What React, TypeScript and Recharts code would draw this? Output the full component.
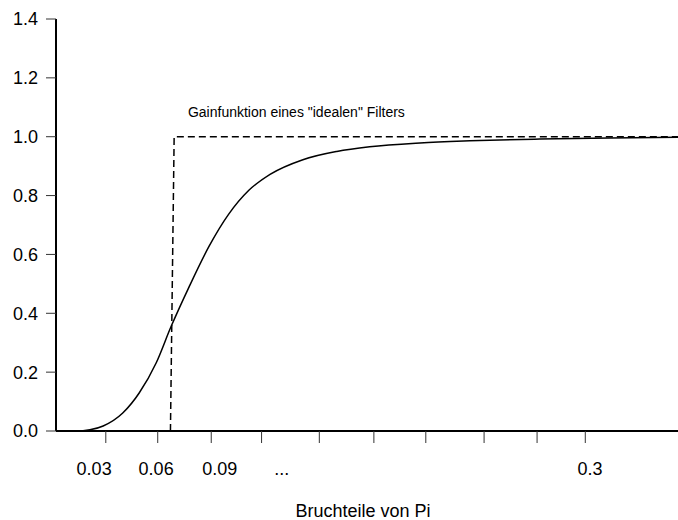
import React from 'react';
import { LineChart, Line, XAxis, YAxis, ReferenceDot } from 'recharts';

// x is measured in tick steps along the axis (axis is hand-drawn, spacing uneven)
const curveX = [0, 0.38, 0.64, 0.89, 1.26, 1.57, 1.89, 2.17, 2.51, 2.89, 3.26, 3.64, 4.04, 4.66, 5.3, 5.92, 6.87, 7.81, 9.13, 10.45, 11.74];
const curveGain = [0, 0, 0.004, 0.017, 0.061, 0.129, 0.231, 0.354, 0.489, 0.628, 0.737, 0.818, 0.872, 0.922, 0.95, 0.966, 0.979, 0.986, 0.992, 0.996, 0.998];

const idealX = [2.16, 2.23, 11.74];
const idealGain = [0, 1, 1];

const tickPositions = [0.94, 1.92, 2.93, 3.88, 4.97, 6.0, 6.98, 8.08, 9.08, 9.99];
const labelPositions = [0.72, 1.89, 3.09, 4.26, 10.08];
const labelTexts = ['0.03', '0.06', '0.09', '...', '0.3'];
const yTicks = [0, 0.2, 0.4, 0.6, 0.8, 1.0, 1.2, 1.4];

const curveData = curveX.map((x, i) => ({ x, gain: curveGain[i] }));
const idealData = idealX.map((x, i) => ({ x, gain: idealGain[i] }));
const allTicks = [...tickPositions, ...labelPositions].sort((a, b) => a - b);

const xDomain: [number, number] = [0, 11.74];

const XTick = (props: any) => {
  const { x, y, payload } = props;
  const li = labelPositions.indexOf(payload.value);
  if (li >= 0) {
    return (
      <text x={x} y={y + 44} textAnchor="middle" fill="#000" fontSize={18}>
        {labelTexts[li]}
      </text>
    );
  }
  return <line x1={x} y1={y} x2={x} y2={y + 12} stroke="#333" strokeWidth={1} />;
};

export default function App() {
  return (
    <div style={{ position: 'absolute', left: 0, top: 0, fontFamily: '"Liberation Sans", Arial, sans-serif' }}>
      <LineChart width={678} height={520} margin={{ top: 19, right: 0, left: 0, bottom: 0 }}>
        <XAxis
          type="number"
          dataKey="x"
          domain={xDomain}
          ticks={allTicks}
          interval={0}
          height={89}
          tickSize={0}
          tickMargin={0}
          tickLine={false}
          axisLine={{ stroke: '#000', strokeWidth: 2 }}
          tick={<XTick />}
          label={{ value: 'Bruchteile von Pi', position: 'insideBottom', offset: 3, dx: -4, fill: '#000', fontSize: 18 }}
        />
        <YAxis
          type="number"
          domain={[0, 1.4]}
          ticks={yTicks}
          interval={0}
          width={56}
          tickSize={10}
          tickMargin={8}
          tickFormatter={(v: number) => v.toFixed(1)}
          tick={{ fill: '#000', fontSize: 18 }}
          axisLine={{ stroke: '#000', strokeWidth: 2 }}
          tickLine={{ stroke: '#333' }}
        />
        <Line
          data={idealData}
          dataKey="gain"
          type="linear"
          stroke="#000"
          strokeWidth={1.5}
          strokeDasharray="7 4"
          dot={false}
          isAnimationActive={false}
        />
        <Line
          data={curveData}
          dataKey="gain"
          type="monotone"
          stroke="#000"
          strokeWidth={1.5}
          dot={false}
          isAnimationActive={false}
        />
        <ReferenceDot
          x={2.49}
          y={1.084}
          r={0}
          stroke="none"
          label={{ value: 'Gainfunktion eines "idealen" Filters', position: 'right', offset: 0, fill: '#000', fontSize: 14 }}
        />
      </LineChart>
    </div>
  );
}
